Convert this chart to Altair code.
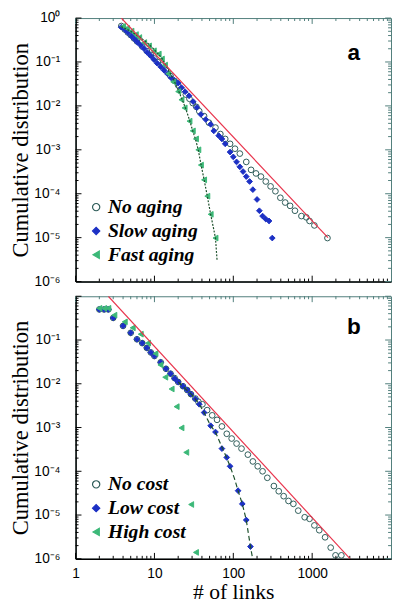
import altair as alt
import pandas as pd

# ---------------- data ----------------
# Panel a
A_SERIES = ["No aging", "Slow aging", "Fast aging"]
A_NO_X = [3.8, 4.2, 4.6, 5.0, 5.5, 6.0, 7.0, 8.0, 9.0, 10, 11, 12.4, 14, 16, 18, 20, 22, 25, 27.8, 30.6,
          34, 37, 42.6, 49.1, 59.4, 68.5, 79, 91, 105, 121, 146, 168, 194, 224, 258, 297, 342, 395,
          455, 525, 605, 731, 843, 926, 1067, 1563]
A_NO_Y = [0.66, 0.55, 0.47, 0.41, 0.345, 0.295, 0.225, 0.178, 0.145, 0.12, 0.1, 0.083, 0.064, 0.048, 0.037,
          0.0294, 0.0239, 0.0181, 0.0145, 0.0116, 0.0095, 0.0076, 0.00586, 0.00415, 0.00321, 0.00229,
          0.00177, 0.00137, 0.00106, 0.00082, 0.00053, 0.00035, 0.00029, 0.000246, 0.00019, 0.000147,
          0.000114, 8.1e-5, 6.3e-5, 5.3e-5, 4.1e-5, 3.1e-5, 2.9e-5, 2.4e-5, 1.9e-5, 9.8e-6]
A_SLOW_X = [3.8, 4.2, 4.6, 5.1, 5.6, 6.1, 6.7, 7.4, 8.1, 8.9, 9.8, 10.8, 12, 13.2, 14.6, 16.2, 18, 20, 22,
            24.5, 27.5, 31, 34.5, 38.8, 44.7, 51.6, 56.6, 65.3, 71.7, 79, 91, 100, 110, 121, 133, 146,
            161, 177, 200, 214, 235, 258, 284, 312]
A_SLOW_Y = [0.62, 0.55, 0.47, 0.39, 0.33, 0.28, 0.24, 0.2, 0.165, 0.14, 0.115, 0.094, 0.078, 0.065, 0.054,
            0.044, 0.038, 0.033, 0.026, 0.021, 0.017, 0.0125, 0.0092, 0.0064, 0.0049, 0.0038, 0.0027,
            0.0021, 0.00177, 0.00137, 0.00089, 0.00069, 0.00053, 0.00041, 0.00032, 0.000246, 0.00019,
            0.000124, 7.4e-5, 4.1e-5, 3.1e-5, 2.65e-5, 2.4e-5, 9.8e-6]
A_FAST_X = [4.0, 4.5, 5.1, 5.8, 6.4, 7.4, 8.5, 9.8, 11.3, 12.4, 13.6, 15.0, 17.3, 20, 22, 24.1, 27.8, 30.6,
            33.6, 36, 38.8, 42.6, 46.8, 51.6, 59.4]
A_FAST_Y = [0.65, 0.58, 0.505, 0.42, 0.36, 0.277, 0.233, 0.18, 0.152, 0.117, 0.085, 0.054, 0.0354, 0.0212,
            0.0138, 0.009, 0.0045, 0.0027, 0.00177, 0.001, 0.00045, 0.000207, 8.8e-5, 3.4e-5, 9.8e-6]
A_FIT_X = [3.8, 5, 6.5, 8, 10, 12.5, 15, 17.5, 20, 22.5, 25, 27.8, 30.6, 33.6, 36, 38.8, 42.6, 46.8, 51.6,
           55.5, 59.4, 62.2]
A_FIT_Y = [0.64, 0.5, 0.37, 0.28, 0.19, 0.12, 0.066, 0.04, 0.023, 0.0138, 0.0085, 0.0048, 0.0027, 0.0016,
           0.00098, 0.00048, 0.00021, 8.8e-5, 3.4e-5, 1.8e-5, 9.8e-6, 3.1e-6]
A_POW_X = [3.8, 1585]
A_POW_Y = [1.0, 1e-5]

# Panel b
B_SERIES = ["No cost", "Low cost", "High cost"]
B_NO_X = [2, 2.3, 2.6, 3, 4, 5, 6, 7, 8, 9, 10, 12, 14, 16, 18, 20, 23, 26, 29, 33, 36, 40.6, 46.6, 54,
          62.2, 71.7, 82.6, 95.3, 110, 127, 153, 177, 204, 235, 270, 327, 377, 435, 501, 578, 666, 804,
          926, 1067, 1230, 1459, 1718, 1977, 2345]
B_NO_Y = [0.5, 0.5, 0.5, 0.32, 0.21, 0.146, 0.104, 0.085, 0.066, 0.052, 0.043, 0.031, 0.022, 0.017, 0.0135,
          0.011, 0.0088, 0.0072, 0.0058, 0.0046, 0.0039, 0.0034, 0.0025, 0.0019, 0.0015, 0.00106, 0.00072,
          0.00056, 0.00043, 0.00033, 0.00024, 0.000168, 0.00013, 0.0001, 7.1e-5, 4.6e-5, 3.5e-5, 2.7e-5,
          2.1e-5, 1.8e-5, 1.26e-5, 8.9e-6, 8.2e-6, 5.8e-6, 4.5e-6, 3.1e-6, 1.8e-6, 1.2e-6, 1.2e-6]
B_LOW_X = [2, 2.3, 2.6, 3, 4, 5, 6, 7, 8, 9, 10, 12, 14, 16, 18, 20, 23, 26, 29, 33, 37, 42.6, 51.6, 59.4,
           71.7, 82.6, 91, 115, 130, 146, 165]
B_LOW_Y = [0.5, 0.5, 0.5, 0.32, 0.21, 0.146, 0.104, 0.085, 0.066, 0.052, 0.043, 0.031, 0.022, 0.017, 0.0132,
           0.011, 0.0088, 0.0072, 0.0058, 0.0045, 0.0034, 0.0022, 0.0011, 0.00079, 0.00033, 0.000207,
           0.00013, 3.6e-5, 1.8e-5, 7.7e-6, 1.9e-6]
B_HIGH_X = [2, 2.3, 2.6, 3.1, 4.2, 5.3, 6.7, 8.3, 10.3, 11.9, 13.7, 16.5, 19.1, 22, 25.3, 29.2, 33.6]
B_HIGH_Y = [0.53, 0.53, 0.53, 0.37, 0.26, 0.19, 0.136, 0.085, 0.049, 0.027, 0.0141, 0.0076, 0.003, 0.00098,
            0.00027, 1.74e-5, 1.4e-6]
B_FIT_X = [20, 25, 30, 37, 42.6, 51.6, 59.4, 71.7, 82.6, 91, 103, 115, 130, 146, 165, 180]
B_FIT_Y = [0.011, 0.0075, 0.0056, 0.0034, 0.0022, 0.0011, 0.00079, 0.00036, 0.0002, 0.00013, 7e-5, 3.6e-5,
           1.8e-5, 7.7e-6, 1.9e-6, 8e-7]
B_POW_X = [2.6, 3030]
B_POW_Y = [1.0, 1e-6]

# ---------------- style ----------------
BLUE = "#1c30c4"
GREEN = "#3cb878"
TEAL = "#2d5b58"
RED = "#e8344c"
FITG = "#1b4f2a"
FRAME = "#4f7d7a"

W = 322
XDOM = [1, 10000]
YDOM = [1e-6, 1]
MAJ_X = [1, 10, 100, 1000]
MIN_X = [k * 10 ** e for e in range(4) for k in range(2, 10)]
MAJ_Y = [1, 0.1, 0.01, 0.001, 1e-4, 1e-5, 1e-6]
MIN_Y = [k * 10.0 ** (-e) for e in range(1, 7) for k in range(2, 10)]

SUP = "['⁰','¹','²','³','⁴','⁵','⁶']"
Y_LABEL = "'10' + (datum.value >= 0.999 ? '⁰' : '⁻' + " + SUP + "[round(-log(datum.value)/LN10)])"


def xs():
    return alt.Scale(type="log", domain=XDOM)


def ys():
    return alt.Scale(type="log", domain=YDOM)


def tick_rules(vals, side, length, color, h):
    base = alt.Chart(pd.DataFrame({"v": vals})).mark_rule(color=color, strokeWidth=1)
    if side in ("bottom", "top"):
        enc = dict(x=alt.X("v:Q", scale=xs(), axis=None))
        if side == "bottom":
            enc.update(y=alt.value(h), y2=alt.value(h - length))
        else:
            enc.update(y=alt.value(0), y2=alt.value(length))
    else:
        enc = dict(y=alt.Y("v:Q", scale=ys(), axis=None))
        if side == "left":
            enc.update(x=alt.value(0), x2=alt.value(length))
        else:
            enc.update(x=alt.value(W), x2=alt.value(W - length))
    return base.encode(**enc)


def panel(series, pts, fit, fit_dash, pow_line, show_x, y_vals, legend_y, tag, tag_y, h):
    xa_kw = dict(orient="bottom", values=MAJ_X, labels=show_x, labelExpr="format(datum.value, 'd')",
                 labelFont="Liberation Sans", labelFontSize=14, labelColor="black", labelPadding=8,
                 labelFlush=False, labelOverlap=False, ticks=False, domain=True, domainColor="black",
                 domainWidth=1.5, grid=False, title=None)
    if show_x:
        xa_kw.update(title="# of links", titleFont="Liberation Serif", titleFontSize=22,
                     titleFontWeight="normal", titleColor="black", titlePadding=2)
    ya = alt.Axis(orient="left", values=y_vals, labelExpr=Y_LABEL, labelFont="Liberation Sans",
                  labelFontSize=14, labelColor="black", labelPadding=16, labelFlush=False,
                  labelOverlap=False, ticks=False, domain=True, domainColor="black", domainWidth=1.5,
                  grid=False, title="Cumulative distribution", titleFont="Liberation Serif",
                  titleFontSize=23, titleFontWeight="normal", titleColor="black", titlePadding=2)

    leg = alt.Legend(orient="none", legendX=11, legendY=legend_y, title=None,
                     labelFont="Liberation Serif", labelFontSize=20, labelFontStyle="italic",
                     labelFontWeight="bold", labelColor="black", symbolSize=55, symbolStrokeWidth=1.2,
                     rowPadding=4.3, labelOffset=2, padding=0)
    points = alt.Chart(pts).mark_point(size=34, strokeWidth=1, opacity=1).encode(
        x=alt.X("x:Q", scale=xs(), axis=alt.Axis(**xa_kw)),
        y=alt.Y("y:Q", scale=ys(), axis=ya),
        shape=alt.Shape("series:N", scale=alt.Scale(domain=series,
                        range=["circle", "diamond", "triangle-left"]), legend=leg),
        fill=alt.Fill("series:N", scale=alt.Scale(domain=series,
                      range=["transparent", BLUE, GREEN]), legend=leg),
        stroke=alt.Stroke("series:N", scale=alt.Scale(domain=series,
                          range=[TEAL, BLUE, GREEN]), legend=leg),
        order=alt.Order("k:Q"),
    )
    fitline = alt.Chart(fit).mark_line(color=FITG, strokeWidth=1.2, strokeDash=fit_dash, clip=True).encode(
        x=alt.X("x:Q", scale=xs(), axis=None),
        y=alt.Y("y:Q", scale=ys(), axis=None),
    )
    powline = alt.Chart(pow_line).mark_line(color=RED, strokeWidth=1.2, clip=True).encode(
        x=alt.X("x:Q", scale=xs(), axis=None),
        y=alt.Y("y:Q", scale=ys(), axis=None),
    )
    label = alt.Chart(pd.DataFrame({"t": [tag]})).mark_text(
        font="Liberation Sans", fontSize=23, fontWeight="bold", color="black").encode(
        text="t:N", x=alt.value(284), y=alt.value(tag_y))
    ticks = [
        tick_rules(MAJ_X, "bottom", 6, "black", h), tick_rules(MIN_X, "bottom", 3, "black", h),
        tick_rules(MAJ_X, "top", 6, FRAME, h), tick_rules(MIN_X, "top", 3, FRAME, h),
        tick_rules(MAJ_Y, "left", 6, "black", h), tick_rules(MIN_Y, "left", 3, "black", h),
        tick_rules(MAJ_Y, "right", 6, FRAME, h), tick_rules(MIN_Y, "right", 3, FRAME, h),
    ]
    return alt.layer(points, *ticks, fitline, powline, label).resolve_axis(
        x="independent", y="independent").properties(width=W, height=h)


def pts_frame(series, xs_list, ys_list):
    rows = []
    k = 0
    for name, xv, yv in zip(series, xs_list, ys_list):
        for a, b in zip(xv, yv):
            rows.append({"x": a, "y": b, "series": name, "k": k})
            k += 1
    return pd.DataFrame(rows)


pts_a = pts_frame(A_SERIES, [A_NO_X, A_SLOW_X, A_FAST_X], [A_NO_Y, A_SLOW_Y, A_FAST_Y])
pts_b = pts_frame(B_SERIES, [B_NO_X, B_LOW_X, B_HIGH_X], [B_NO_Y, B_LOW_Y, B_HIGH_Y])

top = panel(A_SERIES, pts_a, pd.DataFrame({"x": A_FIT_X, "y": A_FIT_Y}), [2, 1.5],
            pd.DataFrame({"x": A_POW_X, "y": A_POW_Y}), False, MAJ_Y, 183, "a", 36, 269)
bottom = panel(B_SERIES, pts_b, pd.DataFrame({"x": B_FIT_X, "y": B_FIT_Y}), [5, 3],
               pd.DataFrame({"x": B_POW_X, "y": B_POW_Y}), True, MAJ_Y[1:], 182, "b", 32, 268)

chart = alt.vconcat(top, bottom, spacing=15, bounds="flush").resolve_scale(
    x="independent", y="independent", shape="independent", fill="independent", stroke="independent"
).properties(padding={"top": -4, "left": 0, "right": 0, "bottom": 0}).configure_view(
    stroke=FRAME, strokeWidth=1)

chart.save("out.html", embed_options={"renderer": "svg", "actions": False})
